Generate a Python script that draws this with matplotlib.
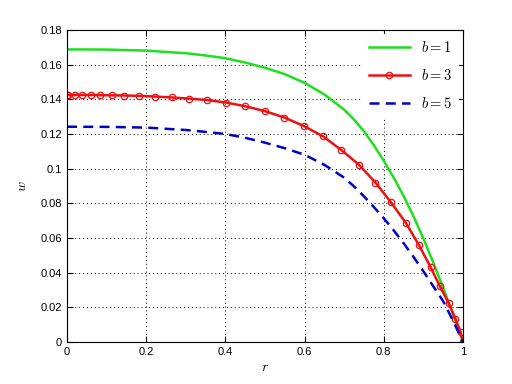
import numpy as np
import matplotlib
matplotlib.use("Agg")
import matplotlib.pyplot as plt
from matplotlib.ticker import FuncFormatter

# b = 1 (green, solid)
r_b1 = [0, 0.1, 0.2, 0.3, 0.35, 0.4, 0.45, 0.5, 0.55, 0.6, 0.65, 0.7,
        0.725, 0.75, 0.775, 0.8, 0.825, 0.85, 0.875, 0.9, 0.925, 0.95,
        0.975, 1.0]
w_b1 = [0.1688, 0.1687, 0.1681, 0.1666, 0.1653, 0.1637, 0.1612, 0.1582,
        0.1545, 0.1495, 0.1428, 0.1340, 0.1283, 0.1215, 0.1135, 0.1045,
        0.0948, 0.0842, 0.0725, 0.0597, 0.0458, 0.0312, 0.0160, 0.0]

# b = 3 (red, circle markers at the solver nodes)
r_b3 = [0, 0.003, 0.02, 0.039, 0.061, 0.083, 0.113, 0.145, 0.183, 0.222,
        0.264, 0.308, 0.354, 0.4025, 0.4505, 0.501, 0.549, 0.598, 0.646,
        0.692, 0.737, 0.779, 0.818, 0.856, 0.888, 0.918, 0.941, 0.964,
        0.981, 0.994, 1.0]
w_b3 = [0.1425, 0.1425, 0.1425, 0.1425, 0.1425, 0.1424, 0.1423, 0.1422,
        0.1420, 0.1416, 0.1411, 0.1404, 0.1396, 0.1381, 0.1360, 0.1331,
        0.1295, 0.1246, 0.1187, 0.1109, 0.1023, 0.0920, 0.0806, 0.0686,
        0.0562, 0.0433, 0.0324, 0.0223, 0.0133, 0.0057, 0.0]

# b = 5 (blue, dashed)
r_b5 = [0, 0.1, 0.2, 0.3, 0.35, 0.4, 0.45, 0.5, 0.55, 0.6, 0.65, 0.7,
        0.725, 0.75, 0.775, 0.8, 0.825, 0.85, 0.875, 0.9, 0.925, 0.95,
        0.975, 1.0]
w_b5 = [0.1242, 0.1241, 0.1237, 0.1223, 0.1212, 0.1200, 0.1178, 0.1150,
        0.1118, 0.1080, 0.1022, 0.0948, 0.0897, 0.0840, 0.0778, 0.0714,
        0.0644, 0.0570, 0.0491, 0.0408, 0.0321, 0.0235, 0.0122, 0.0]

plt.rcParams['font.family'] = ['Liberation Sans', 'DejaVu Sans']
plt.rcParams['mathtext.fontset'] = 'cm'

fig = plt.figure(figsize=(5.12, 3.84), dpi=100)
ax = fig.add_axes([0.1309, 0.1094, 0.7734, 0.8125])

ax.plot(r_b1, w_b1, color='#1ee01e', lw=1.8, label='$b=1$')
ax.plot(r_b3, w_b3, color='#ee1111', lw=1.8, marker='o', ms=4.6,
        mfc='none', mec='#ee1111', mew=0.9, label='$b=3$')
ax.plot(r_b5, w_b5, color='#0000cc', lw=1.8, ls=(0, (4, 2.5)), label='$b=5$')

ax.set_xlim(0, 1)
ax.set_ylim(0, 0.18)
ax.set_xticks(np.arange(0, 1.01, 0.2))
ax.set_yticks(np.arange(0, 0.181, 0.02))
fmt = FuncFormatter(lambda v, p: '%g' % round(v, 4))
ax.xaxis.set_major_formatter(fmt)
ax.yaxis.set_major_formatter(fmt)
ax.tick_params(direction='in', top=True, right=True, labelsize=8, length=4, width=0.8)
ax.grid(True, color='black', ls=(0, (1, 3)), lw=0.7)
for s in ax.spines.values():
    s.set_linewidth(0.8)

ax.set_xlabel('$r$', fontsize=10, labelpad=2)
ax.set_ylabel('$w$', fontsize=10, labelpad=8)

leg = ax.legend(loc='upper right', fontsize=10.5, frameon=True, fancybox=False,
                framealpha=1, edgecolor='white', borderaxespad=0.3,
                handlelength=2.8, labelspacing=0.9)
leg.get_frame().set_linewidth(0)

fig.savefig('out.png', dpi=100)
